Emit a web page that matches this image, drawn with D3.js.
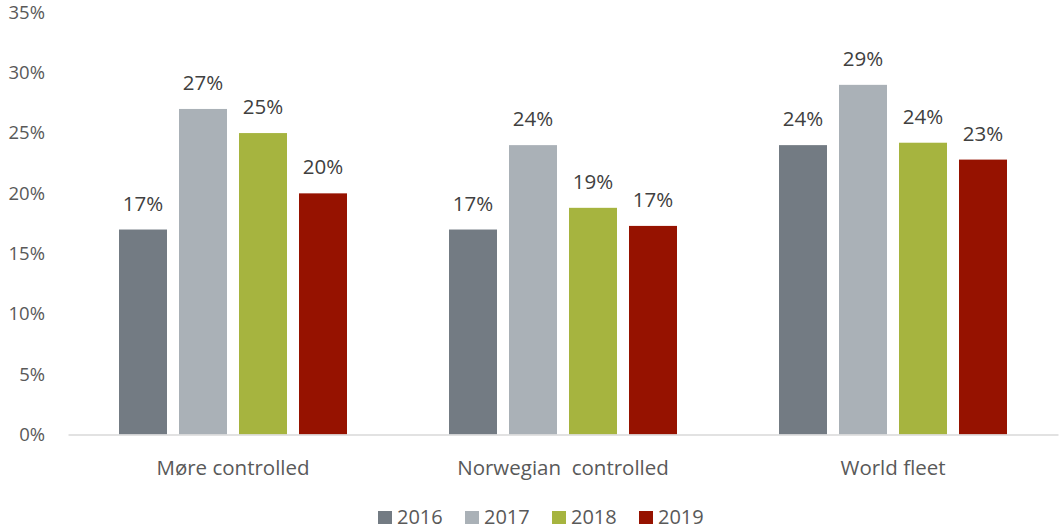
<!DOCTYPE html>
<html>
<head>
<meta charset="utf-8">
<script src="https://cdn.jsdelivr.net/npm/d3@7"></script>
<style>
  body { margin: 0; background: #fff; }
  text { font-family: "Open Sans", "Liberation Sans", sans-serif; }
</style>
</head>
<body>
<script>
const width = 1059
const height = 530
const margin = {top: 12.5, bottom: 95.5, left: 68, right: 1}

// data
const categories = ['Møre controlled', 'Norwegian  controlled', 'World fleet']
const years = ['2016', '2017', '2018', '2019']
const values2016 = [17, 17, 24]
const values2017 = [27, 24, 29]
const values2018 = [25, 18.8, 24.2]
const values2019 = [20, 17.3, 22.8]
const labels2016 = ['17%', '17%', '24%']
const labels2017 = ['27%', '24%', '29%']
const labels2018 = ['25%', '19%', '24%']
const labels2019 = ['20%', '17%', '23%']
const yTicks = [0, 5, 10, 15, 20, 25, 30, 35]
const colors = ['#737b83', '#aab1b7', '#a6b43f', '#961200']

const series = [values2016, values2017, values2018, values2019]
const seriesLabels = [labels2016, labels2017, labels2018, labels2019]

const rows = []
years.forEach((yr, i) => {
  categories.forEach((c, j) => {
    rows.push({year: yr, cat: c, value: series[i][j], label: seriesLabels[i][j], color: colors[i]})
  })
})

const svg = d3.select('body').append('svg')
  .attr('width', width)
  .attr('height', height)

// scales
const x0 = d3.scaleBand().domain(categories).range([margin.left, width - margin.right])
const x1 = d3.scaleBand().domain(years).range([51, x0.bandwidth() - 51]).paddingInner(0.2)
const y = d3.scaleLinear().domain([0, 35]).range([height - margin.bottom, margin.top])

// y axis labels (no line, no ticks)
const yaxis = d3.axisLeft(y).tickValues(yTicks).tickFormat(d => d + '%').tickSize(0).tickPadding(0)
const g_yaxis = svg.append('g')
  .attr('transform', 'translate(45,0)')
  .call(yaxis)
g_yaxis.select('.domain').remove()
g_yaxis.selectAll('text')
  .style('font-family', '"Open Sans", sans-serif')
  .style('font-size', '18.5px')
  .attr('fill', '#595959')

// bars
svg.append('g').selectAll('rect').data(rows).join('rect')
  .attr('x', d => x0(d.cat) + x1(d.year))
  .attr('y', d => y(d.value))
  .attr('width', x1.bandwidth())
  .attr('height', d => y(0) - y(d.value))
  .attr('fill', d => d.color)

// value labels
svg.append('g').selectAll('text').data(rows).join('text')
  .attr('x', d => x0(d.cat) + x1(d.year) + x1.bandwidth() / 2)
  .attr('y', d => y(d.value) - 19)
  .attr('text-anchor', 'middle')
  .attr('fill', '#404040')
  .style('font-size', '20.5px')
  .text(d => d.label)

// baseline + category labels
const xaxis = d3.axisBottom(x0).tickSize(0)
const g_xaxis = svg.append('g')
  .attr('transform', `translate(0,${y(0)})`)
  .call(xaxis)
g_xaxis.select('.domain').attr('stroke', '#d9d9d9').attr('stroke-width', 1.5)
g_xaxis.selectAll('text')
  .attr('y', 40.5).attr('dy', null)
  .style('font-family', '"Open Sans", sans-serif')
  .style('font-size', '20.5px')
  .attr('fill', '#595959')
  .style('white-space', 'pre')

// legend
const legendX = [378, 465, 552, 639]
const legend = svg.append('g').selectAll('g').data(years).join('g')
  .attr('transform', (d, i) => `translate(${legendX[i]},511)`)
legend.append('rect')
  .attr('width', 14).attr('height', 13)
  .attr('fill', (d, i) => colors[i])
legend.append('text')
  .attr('x', 19).attr('y', 13)
  .attr('fill', '#595959')
  .style('font-size', '20px')
  .text(d => d)
</script>
</body>
</html>
